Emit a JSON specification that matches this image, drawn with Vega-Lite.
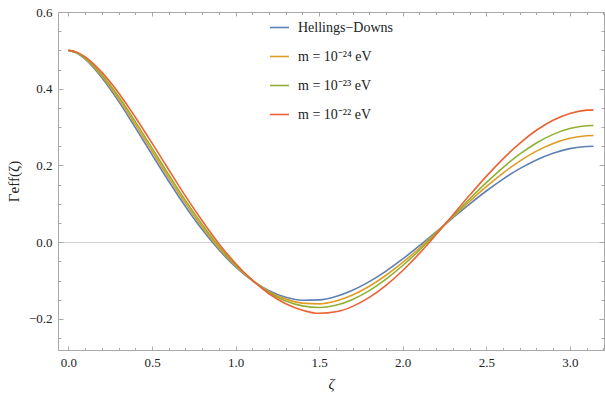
{
"$schema": "https://vega.github.io/schema/vega-lite/v6.json",
"width": 546, "height": 338,
"autosize": {"type": "none"},
"padding": {"left": 58, "top": 12, "right": 1, "bottom": 44},
"background": "white",
"config": {"view": {"stroke": null}, "font": "Liberation Serif"},
"data": {"values": [
{"z":0,"g":0.5,"s":"Hellings−Downs"},{"z":0.05,"g":0.4929,"s":"Hellings−Downs"},{"z":0.1,"g":0.4769,"s":"Hellings−Downs"},{"z":0.15,"g":0.4549,"s":"Hellings−Downs"},{"z":0.2,"g":0.4286,"s":"Hellings−Downs"},{"z":0.3,"g":0.3671,"s":"Hellings−Downs"},{"z":0.4,"g":0.2988,"s":"Hellings−Downs"},{"z":0.5,"g":0.2282,"s":"Hellings−Downs"},{"z":0.6,"g":0.1588,"s":"Hellings−Downs"},{"z":0.7,"g":0.0931,"s":"Hellings−Downs"},{"z":0.8,"g":0.033,"s":"Hellings−Downs"},{"z":0.9,"g":-0.0198,"s":"Hellings−Downs"},{"z":1.0,"g":-0.0644,"s":"Hellings−Downs"},{"z":1.1,"g":-0.1,"s":"Hellings−Downs"},{"z":1.2,"g":-0.1264,"s":"Hellings−Downs"},{"z":1.3,"g":-0.1434,"s":"Hellings−Downs"},{"z":1.4,"g":-0.1512,"s":"Hellings−Downs"},{"z":1.5,"g":-0.1504,"s":"Hellings−Downs"},{"z":1.6,"g":-0.1415,"s":"Hellings−Downs"},{"z":1.7,"g":-0.1253,"s":"Hellings−Downs"},{"z":1.8,"g":-0.1029,"s":"Hellings−Downs"},{"z":1.9,"g":-0.0753,"s":"Hellings−Downs"},{"z":2.0,"g":-0.0437,"s":"Hellings−Downs"},{"z":2.1,"g":-0.0092,"s":"Hellings−Downs"},{"z":2.2,"g":0.027,"s":"Hellings−Downs"},{"z":2.3,"g":0.0636,"s":"Hellings−Downs"},{"z":2.4,"g":0.0994,"s":"Hellings−Downs"},{"z":2.5,"g":0.1334,"s":"Hellings−Downs"},{"z":2.6,"g":0.1645,"s":"Hellings−Downs"},{"z":2.7,"g":0.1918,"s":"Hellings−Downs"},{"z":2.8,"g":0.2145,"s":"Hellings−Downs"},{"z":2.9,"g":0.232,"s":"Hellings−Downs"},{"z":3.0,"g":0.2438,"s":"Hellings−Downs"},{"z":3.1,"g":0.2495,"s":"Hellings−Downs"},{"z":3.1416,"g":0.25,"s":"Hellings−Downs"},
{"z":0,"g":0.5,"s":"m = 10⁻²⁴ eV"},{"z":0.05,"g":0.4936,"s":"m = 10⁻²⁴ eV"},{"z":0.1,"g":0.4787,"s":"m = 10⁻²⁴ eV"},{"z":0.15,"g":0.4579,"s":"m = 10⁻²⁴ eV"},{"z":0.2,"g":0.4327,"s":"m = 10⁻²⁴ eV"},{"z":0.3,"g":0.3736,"s":"m = 10⁻²⁴ eV"},{"z":0.4,"g":0.3068,"s":"m = 10⁻²⁴ eV"},{"z":0.5,"g":0.2371,"s":"m = 10⁻²⁴ eV"},{"z":0.6,"g":0.1677,"s":"m = 10⁻²⁴ eV"},{"z":0.7,"g":0.1011,"s":"m = 10⁻²⁴ eV"},{"z":0.8,"g":0.0398,"s":"m = 10⁻²⁴ eV"},{"z":0.9,"g":-0.0151,"s":"m = 10⁻²⁴ eV"},{"z":1.0,"g":-0.0617,"s":"m = 10⁻²⁴ eV"},{"z":1.1,"g":-0.0997,"s":"m = 10⁻²⁴ eV"},{"z":1.2,"g":-0.1288,"s":"m = 10⁻²⁴ eV"},{"z":1.3,"g":-0.1484,"s":"m = 10⁻²⁴ eV"},{"z":1.4,"g":-0.1589,"s":"m = 10⁻²⁴ eV"},{"z":1.5,"g":-0.1607,"s":"m = 10⁻²⁴ eV"},{"z":1.6,"g":-0.1533,"s":"m = 10⁻²⁴ eV"},{"z":1.7,"g":-0.1377,"s":"m = 10⁻²⁴ eV"},{"z":1.8,"g":-0.115,"s":"m = 10⁻²⁴ eV"},{"z":1.9,"g":-0.0862,"s":"m = 10⁻²⁴ eV"},{"z":2.0,"g":-0.0526,"s":"m = 10⁻²⁴ eV"},{"z":2.1,"g":-0.0151,"s":"m = 10⁻²⁴ eV"},{"z":2.2,"g":0.0249,"s":"m = 10⁻²⁴ eV"},{"z":2.3,"g":0.0658,"s":"m = 10⁻²⁴ eV"},{"z":2.4,"g":0.1061,"s":"m = 10⁻²⁴ eV"},{"z":2.5,"g":0.1447,"s":"m = 10⁻²⁴ eV"},{"z":2.6,"g":0.1801,"s":"m = 10⁻²⁴ eV"},{"z":2.7,"g":0.2113,"s":"m = 10⁻²⁴ eV"},{"z":2.8,"g":0.2373,"s":"m = 10⁻²⁴ eV"},{"z":2.9,"g":0.2573,"s":"m = 10⁻²⁴ eV"},{"z":3.0,"g":0.2709,"s":"m = 10⁻²⁴ eV"},{"z":3.1,"g":0.2774,"s":"m = 10⁻²⁴ eV"},{"z":3.1416,"g":0.278,"s":"m = 10⁻²⁴ eV"},
{"z":0,"g":0.5,"s":"m = 10⁻²³ eV"},{"z":0.05,"g":0.4943,"s":"m = 10⁻²³ eV"},{"z":0.1,"g":0.4803,"s":"m = 10⁻²³ eV"},{"z":0.15,"g":0.4606,"s":"m = 10⁻²³ eV"},{"z":0.2,"g":0.4366,"s":"m = 10⁻²³ eV"},{"z":0.3,"g":0.3796,"s":"m = 10⁻²³ eV"},{"z":0.4,"g":0.3142,"s":"m = 10⁻²³ eV"},{"z":0.5,"g":0.2453,"s":"m = 10⁻²³ eV"},{"z":0.6,"g":0.1759,"s":"m = 10⁻²³ eV"},{"z":0.7,"g":0.1085,"s":"m = 10⁻²³ eV"},{"z":0.8,"g":0.0461,"s":"m = 10⁻²³ eV"},{"z":0.9,"g":-0.0107,"s":"m = 10⁻²³ eV"},{"z":1.0,"g":-0.0593,"s":"m = 10⁻²³ eV"},{"z":1.1,"g":-0.0994,"s":"m = 10⁻²³ eV"},{"z":1.2,"g":-0.131,"s":"m = 10⁻²³ eV"},{"z":1.3,"g":-0.1531,"s":"m = 10⁻²³ eV"},{"z":1.4,"g":-0.166,"s":"m = 10⁻²³ eV"},{"z":1.5,"g":-0.1704,"s":"m = 10⁻²³ eV"},{"z":1.6,"g":-0.1643,"s":"m = 10⁻²³ eV"},{"z":1.7,"g":-0.1492,"s":"m = 10⁻²³ eV"},{"z":1.8,"g":-0.1263,"s":"m = 10⁻²³ eV"},{"z":1.9,"g":-0.0964,"s":"m = 10⁻²³ eV"},{"z":2.0,"g":-0.0608,"s":"m = 10⁻²³ eV"},{"z":2.1,"g":-0.0206,"s":"m = 10⁻²³ eV"},{"z":2.2,"g":0.023,"s":"m = 10⁻²³ eV"},{"z":2.3,"g":0.0678,"s":"m = 10⁻²³ eV"},{"z":2.4,"g":0.1124,"s":"m = 10⁻²³ eV"},{"z":2.5,"g":0.1551,"s":"m = 10⁻²³ eV"},{"z":2.6,"g":0.1946,"s":"m = 10⁻²³ eV"},{"z":2.7,"g":0.2294,"s":"m = 10⁻²³ eV"},{"z":2.8,"g":0.2585,"s":"m = 10⁻²³ eV"},{"z":2.9,"g":0.281,"s":"m = 10⁻²³ eV"},{"z":3.0,"g":0.2961,"s":"m = 10⁻²³ eV"},{"z":3.1,"g":0.3035,"s":"m = 10⁻²³ eV"},{"z":3.1416,"g":0.3042,"s":"m = 10⁻²³ eV"},
{"z":0,"g":0.5,"s":"m = 10⁻²² eV"},{"z":0.05,"g":0.4954,"s":"m = 10⁻²² eV"},{"z":0.1,"g":0.4829,"s":"m = 10⁻²² eV"},{"z":0.15,"g":0.4649,"s":"m = 10⁻²² eV"},{"z":0.2,"g":0.4426,"s":"m = 10⁻²² eV"},{"z":0.3,"g":0.3891,"s":"m = 10⁻²² eV"},{"z":0.4,"g":0.3258,"s":"m = 10⁻²² eV"},{"z":0.5,"g":0.2582,"s":"m = 10⁻²² eV"},{"z":0.6,"g":0.1888,"s":"m = 10⁻²² eV"},{"z":0.7,"g":0.1201,"s":"m = 10⁻²² eV"},{"z":0.8,"g":0.056,"s":"m = 10⁻²² eV"},{"z":0.9,"g":-0.0038,"s":"m = 10⁻²² eV"},{"z":1.0,"g":-0.0554,"s":"m = 10⁻²² eV"},{"z":1.1,"g":-0.099,"s":"m = 10⁻²² eV"},{"z":1.2,"g":-0.1344,"s":"m = 10⁻²² eV"},{"z":1.3,"g":-0.1604,"s":"m = 10⁻²² eV"},{"z":1.4,"g":-0.1772,"s":"m = 10⁻²² eV"},{"z":1.5,"g":-0.1854,"s":"m = 10⁻²² eV"},{"z":1.6,"g":-0.1815,"s":"m = 10⁻²² eV"},{"z":1.7,"g":-0.1673,"s":"m = 10⁻²² eV"},{"z":1.8,"g":-0.1439,"s":"m = 10⁻²² eV"},{"z":1.9,"g":-0.1123,"s":"m = 10⁻²² eV"},{"z":2.0,"g":-0.0737,"s":"m = 10⁻²² eV"},{"z":2.1,"g":-0.0292,"s":"m = 10⁻²² eV"},{"z":2.2,"g":0.02,"s":"m = 10⁻²² eV"},{"z":2.3,"g":0.071,"s":"m = 10⁻²² eV"},{"z":2.4,"g":0.1221,"s":"m = 10⁻²² eV"},{"z":2.5,"g":0.1715,"s":"m = 10⁻²² eV"},{"z":2.6,"g":0.2173,"s":"m = 10⁻²² eV"},{"z":2.7,"g":0.2578,"s":"m = 10⁻²² eV"},{"z":2.8,"g":0.2917,"s":"m = 10⁻²² eV"},{"z":2.9,"g":0.3179,"s":"m = 10⁻²² eV"},{"z":3.0,"g":0.3356,"s":"m = 10⁻²² eV"},{"z":3.1,"g":0.3442,"s":"m = 10⁻²² eV"},{"z":3.1416,"g":0.345,"s":"m = 10⁻²² eV"}
]},
"layer": [
{"mark": {"type": "line", "strokeWidth": 1.6, "interpolate": "monotone", "clip": true},
 "encoding": {
  "x": {"field": "z", "type": "quantitative", "scale": {"domain": [-0.0628, 3.2044], "nice": false, "zero": false},
   "axis": {"orient": "bottom", "values": [0,0.1,0.2,0.3,0.4,0.5,0.6,0.7,0.8,0.9,1,1.1,1.2,1.3,1.4,1.5,1.6,1.7,1.8,1.9,2,2.1,2.2,2.3,2.4,2.5,2.6,2.7,2.8,2.9,3,3.1,3.2],
    "labelExpr": "abs(datum.value*2 - round(datum.value*2)) < 0.001 ? format(datum.value, '.1f') : ''",
    "tickSize": {"condition": {"test": "abs(datum.value*2 - round(datum.value*2)) < 0.001", "value": -4}, "value": -2.5},
    "labelPadding": 10, "labelFontSize": 13, "labelColor": "#222222", "labelFont": "Liberation Serif", "labelFlush": false, "labelOverlap": false,
    "domainColor": "#a8a8a8", "tickColor": "#a8a8a8", "grid": false,
    "title": "ζ", "titleFont": "Liberation Serif", "titleFontStyle": "italic", "titleFontWeight": "normal", "titleFontSize": 15, "titleColor": "#222222", "titlePadding": 6}},
  "y": {"field": "g", "type": "quantitative", "scale": {"domain": [-0.281, 0.6], "nice": false, "zero": false},
   "axis": {"orient": "left", "values": [-0.25,-0.2,-0.15,-0.1,-0.05,0,0.05,0.1,0.15,0.2,0.25,0.3,0.35,0.4,0.45,0.5,0.55,0.6],
    "labelExpr": "abs(datum.value*5 - round(datum.value*5)) < 0.001 ? format(datum.value, '.1f') : ''",
    "tickSize": {"condition": {"test": "abs(datum.value*5 - round(datum.value*5)) < 0.001", "value": -5}, "value": -3},
    "labelPadding": 11, "labelFontSize": 13, "labelColor": "#222222", "labelFont": "Liberation Serif", "labelFlush": false, "labelOverlap": false,
    "domainColor": "#a8a8a8", "tickColor": "#a8a8a8",
    "grid": true, "gridColor": "#d4d4d4", "gridWidth": 1,
    "gridOpacity": {"condition": {"test": "datum.value == 0", "value": 1}, "value": 0},
    "title": "Γeff(ζ)", "titleFont": "Liberation Serif", "titleFontWeight": "normal", "titleFontSize": 15, "titleColor": "#222222", "titlePadding": 7}},
  "color": {"field": "s", "type": "nominal",
   "scale": {"domain": ["Hellings−Downs", "m = 10⁻²⁴ eV", "m = 10⁻²³ eV", "m = 10⁻²² eV"], "range": ["#5E81B5", "#E19C24", "#8FB032", "#EB6235"]},
   "legend": {"orient": "none", "legendX": 211, "legendY": 5, "title": null, "padding": 0, "symbolType": "stroke", "symbolSize": 361, "symbolStrokeWidth": 1.6,
    "labelFont": "Liberation Serif", "labelFontSize": 14, "labelColor": "#222222", "labelOffset": 8, "rowPadding": 11}}
 }},
{"mark": {"type": "line", "opacity": 0},
 "encoding": {
  "x": {"field": "z", "type": "quantitative",
   "axis": {"orient": "top", "values": [0,0.1,0.2,0.3,0.4,0.5,0.6,0.7,0.8,0.9,1,1.1,1.2,1.3,1.4,1.5,1.6,1.7,1.8,1.9,2,2.1,2.2,2.3,2.4,2.5,2.6,2.7,2.8,2.9,3,3.1,3.2],
    "labels": false, "title": null, "grid": false,
    "tickSize": {"condition": {"test": "abs(datum.value*2 - round(datum.value*2)) < 0.001", "value": -4}, "value": -2.5},
    "domainColor": "#a8a8a8", "tickColor": "#a8a8a8"}},
  "y": {"field": "g", "type": "quantitative",
   "axis": {"orient": "right", "values": [-0.25,-0.2,-0.15,-0.1,-0.05,0,0.05,0.1,0.15,0.2,0.25,0.3,0.35,0.4,0.45,0.5,0.55,0.6],
    "labels": false, "title": null, "grid": false,
    "tickSize": {"condition": {"test": "abs(datum.value*5 - round(datum.value*5)) < 0.001", "value": -5}, "value": -3},
    "domainColor": "#a8a8a8", "tickColor": "#a8a8a8"}},
  "detail": {"field": "s"}
 }}
],
"resolve": {"axis": {"x": "independent", "y": "independent"}}
}
